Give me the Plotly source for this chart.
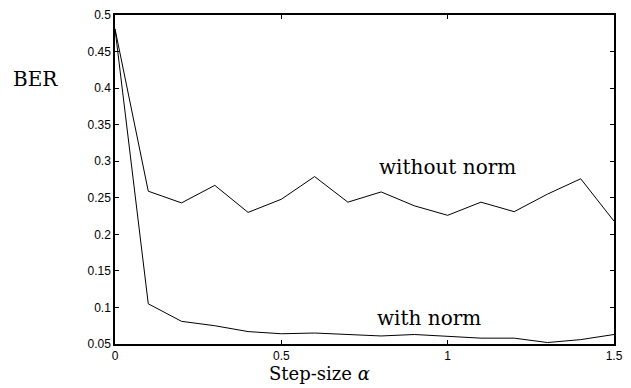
import plotly.graph_objects as go

step_size = [0.0, 0.1, 0.2, 0.3, 0.4, 0.5, 0.6, 0.7, 0.8, 0.9, 1.0, 1.1, 1.2, 1.3, 1.4, 1.5]
ber_without_norm = [0.481, 0.259, 0.243, 0.267, 0.230, 0.248, 0.279, 0.244, 0.258, 0.239,
                    0.226, 0.244, 0.231, 0.255, 0.276, 0.218]
ber_with_norm = [0.481, 0.105, 0.081, 0.075, 0.067, 0.064, 0.065, 0.063, 0.061, 0.063,
                 0.060, 0.058, 0.058, 0.052, 0.056, 0.063]

x_ticks = [0, 0.5, 1, 1.5]
x_tick_text = ["0", "0.5", "1", "1.5"]
y_ticks = [0.05, 0.1, 0.15, 0.2, 0.25, 0.3, 0.35, 0.4, 0.45, 0.5]
y_tick_text = ["0.05", "0.1", "0.15", "0.2", "0.25", "0.3", "0.35", "0.4", "0.45", "0.5"]

serif = "DejaVu Serif"
sans = "Liberation Sans"

fig = go.Figure()
fig.add_trace(go.Scatter(x=step_size, y=ber_without_norm, mode="lines",
                         line=dict(color="black", width=1), showlegend=False))
fig.add_trace(go.Scatter(x=step_size, y=ber_with_norm, mode="lines",
                         line=dict(color="black", width=1), showlegend=False))

axis_common = dict(showline=True, linecolor="black", linewidth=1.5, mirror="ticks",
                   ticks="inside", ticklen=4, tickcolor="black", tickwidth=1,
                   showgrid=False, zeroline=False,
                   tickfont=dict(family=sans, size=12, color="black"))

fig.update_xaxes(range=[0, 1.5], tickvals=x_ticks, ticktext=x_tick_text, **axis_common)
fig.update_yaxes(range=[0.05, 0.5], tickvals=y_ticks, ticktext=y_tick_text, **axis_common)

fig.add_annotation(x=1.0, y=0.292, xref="x", yref="y", text="without norm", showarrow=False,
                   font=dict(family=serif, size=20, color="black"), xanchor="center", yanchor="middle")
fig.add_annotation(x=0.943, y=0.085, xref="x", yref="y", text="with norm", showarrow=False,
                   font=dict(family=serif, size=20, color="black"), xanchor="center", yanchor="middle")
fig.add_annotation(x=-0.159, y=0.805, xref="paper", yref="paper", text="BER", showarrow=False,
                   font=dict(family=serif, size=20, color="black"), xanchor="center", yanchor="middle")
fig.add_annotation(x=0.615, y=-0.09, xref="x", yref="paper", text="Step-size <i>α</i>", showarrow=False,
                   font=dict(family=serif, size=18, color="black"), xanchor="center", yanchor="middle")

fig.update_layout(width=631, height=388, margin=dict(l=115, r=8, t=12, b=44),
                  plot_bgcolor="white", paper_bgcolor="white")

fig.write_html("out.html")
